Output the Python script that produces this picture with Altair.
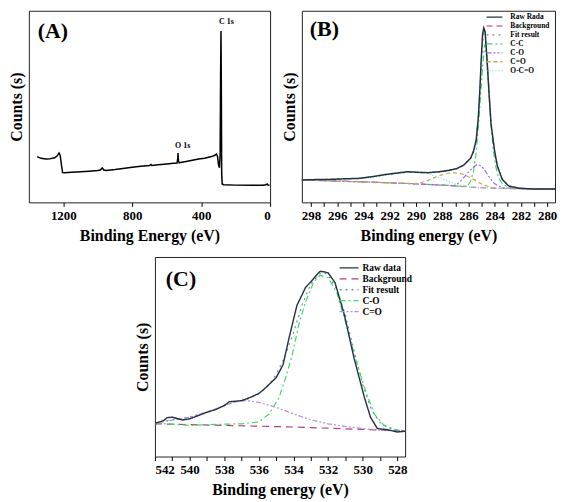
import altair as alt
import pandas as pd

FONT = "Liberation Serif"

# ---------------- Panel A : survey spectrum ----------------
A_E = [1352, 1330, 1300, 1279, 1250, 1235, 1225, 1218, 1210, 1204, 1195, 1150, 1100, 1050, 1000,
       985, 974, 965, 950, 900, 876, 800, 750, 700, 691, 685, 650, 600, 560, 540, 536, 534, 532,
       528, 520, 480, 415, 380, 340, 320, 311, 305, 300, 294, 290, 287, 285, 283, 281, 278,
       270, 200, 100, 40, 25, 17, 12, 3]
A_I = [23.9, 23.0, 22.6, 22.7, 23.3, 24.3, 25.8, 24.5, 19.0, 15.5, 15.4, 15.7, 16.0, 16.3, 16.6,
       16.9, 18.0, 16.9, 16.6, 17.1, 17.4, 18.3, 18.8, 19.2, 19.8, 19.2, 19.6, 20.0, 20.4, 20.5, 23.0, 25.8, 22.0,
       20.6, 20.8, 21.5, 22.6, 23.0, 23.9, 24.6, 25.3, 24.0, 20.0, 18.1, 25.0, 70.0, 89.4, 60.0, 15.0, 9.6,
       9.2, 9.0, 8.9, 8.9, 9.2, 9.6, 9.0, 8.9]
PEAK_LABELS = ["C 1s", "O 1s"]
PEAK_E = [253, 507]
PEAK_I = [94.0, 29.4]

# ---------------- Panel B : C 1s ----------------
B_NAMES = ["Raw Rada", "Background", "Fit result", "C-C", "C-O", "C=O", "O-C=O"]
B_COLORS = ["#22313f", "#d070a8", "#6b8fae", "#3ddc5a", "#9b6bef", "#c9a45c", "#79e0d0"]
B_DASHES = [[1, 0], [6, 4], [2, 4], [6, 3, 2, 3], [5, 2, 2, 2, 2, 2], [4, 3], [1, 2]]

B_RAW_E = [298.7, 297.63, 296.56, 295.48, 294.41, 293.34, 292.27, 291.2, 290.66, 290.12, 289.59,
           289.05, 288.52, 287.98, 287.44, 286.91, 286.37, 285.84, 285.62, 285.41, 285.25, 285.14,
           285.03, 284.92, 284.83, 284.73, 284.6, 284.44, 284.28, 284.01, 283.8, 283.42, 282.94,
           282.19, 281.12, 279.4]
B_RAW_I = [11.7, 11.9, 12.0, 12.3, 12.5, 13.4, 14.6, 15.5, 16.0, 15.8, 15.6,
           15.5, 15.8, 16.2, 16.8, 17.6, 19.4, 23.0, 26.5, 32.5, 44.0, 57.5,
           74.0, 88.0, 91.1, 89.0, 76.0, 58.0, 41.0, 27.0, 19.0, 12.0, 8.6,
           7.4, 7.0, 7.0]
B_BG_E = [298.7, 294.4, 290.1, 288.0, 285.8, 284.8, 283.7, 281.6, 279.4]
B_BG_I = [11.7, 10.8, 9.7, 9.0, 8.0, 7.6, 7.3, 7.1, 7.0]
B_FIT_E = [298.7, 296.56, 294.41, 292.27, 291.2, 290.66, 290.12, 289.05, 287.98, 286.91, 286.37,
           285.84, 285.62, 285.41, 285.25, 285.09, 284.92, 284.82, 284.71, 284.6, 284.44, 284.28,
           284.01, 283.8, 283.42, 282.94, 282.19, 281.01, 279.4]
B_FIT_I = [11.7, 12.0, 12.5, 14.4, 15.3, 15.7, 15.7, 15.6, 16.0, 17.4, 19.3,
           23.0, 27.0, 33.0, 45.0, 63.0, 83.0, 90.0, 88.5, 77.0, 58.5, 41.0,
           27.0, 19.0, 12.0, 8.6, 7.4, 7.0, 7.0]
B_CC_E = [298.7, 294.41, 290.12, 287.98, 286.48, 286.05, 285.84, 285.62, 285.41, 285.25, 285.09,
          284.92, 284.76, 284.6, 284.44, 284.28, 284.12, 283.91, 283.69, 283.37, 282.94, 282.08,
          280.48, 279.4]
B_CC_I = [11.7, 10.8, 9.7, 9.0, 8.3, 8.8, 11.0, 16.0, 26.0, 39.0, 54.0,
          71.0, 82.5, 76.0, 59.0, 41.0, 28.0, 18.5, 12.5, 9.3, 8.0, 7.3,
          7.0, 7.0]
B_CO_E = [298.7, 292.27, 287.98, 287.12, 286.69, 286.26, 285.94, 285.62, 285.35, 285.09, 284.87,
          284.66, 284.39, 284.12, 283.91, 283.37, 282.62, 281.55, 279.4]
B_CO_I = [11.7, 10.3, 9.0, 8.7, 10.5, 13.7, 16.3, 18.3, 19.8, 19.2, 17.8,
          15.8, 12.9, 10.5, 9.3, 7.7, 7.2, 7.1, 7.0]
B_CEO_E = [298.7, 292.27, 290.12, 289.59, 289.05, 288.62, 287.98, 287.55, 287.12, 286.69, 286.37,
           285.94, 285.62, 285.19, 284.87, 284.23, 283.69, 281.55, 279.4]
B_CEO_I = [11.7, 10.3, 9.8, 10.3, 11.6, 12.9, 14.5, 15.2, 15.5, 15.2, 14.6,
           13.2, 12.0, 10.3, 9.1, 7.8, 7.4, 7.1, 7.0]
B_OCO_E = [298.7, 296.56, 294.41, 293.34, 292.27, 291.2, 290.66, 290.12, 289.59, 288.94, 288.19,
           287.44, 286.69, 285.94, 285.3, 283.69, 281.55, 279.4]
B_OCO_I = [11.7, 12.0, 12.4, 13.0, 14.2, 15.3, 15.7, 15.6, 15.3, 14.6, 12.9,
           10.8, 9.1, 8.1, 7.8, 7.3, 7.1, 7.0]

# ---------------- Panel C : O 1s ----------------
C_NAMES = ["Raw data", "Background", "Fit result", "C-O", "C=O"]
C_COLORS = ["#22313f", "#b0407f", "#6b8fae", "#3ddc5a", "#b48be0"]
C_DASHES = [[1, 0], [7, 5], [2, 4], [6, 3, 2, 3], [5, 2, 2, 2, 2, 2]]

C_RAW_E = [542, 541.7, 541.5, 541.3, 541.0, 540.7, 540.4, 540.0, 539.5, 539.0, 538.5, 538.0, 537.7,
           537.5, 537.0, 536.5, 536.0, 535.7, 535.0, 534.6, 534.26, 533.8, 533.3, 532.9, 532.55,
           532.45, 532.2, 532.0, 531.6, 531.05, 530.5, 529.9, 529.55, 529.15, 528.6, 528.0, 527.5]
C_RAW_I = [16.8, 17.4, 18.0, 19.5, 19.7, 19.0, 18.3, 18.9, 20.5, 22.2, 23.5, 25.5, 27.5,
           27.6, 28.0, 29.6, 31.6, 33.7, 39.5, 46.0, 59.2, 75.7, 84.7, 88.5, 92.1,
           92.8, 92.5, 92.1, 87.2, 70.7, 49.3, 29.6, 19.7, 14.0, 13.5, 12.3, 12.7]
C_BG_E = [542, 538, 534, 530, 527.5]
C_BG_I = [16.4, 15.6, 14.8, 13.6, 12.7]
C_FIT_E = [542, 541, 540, 539, 538, 537.3, 536.7, 536, 535.5, 535, 534.5, 534, 533.5, 533, 532.5,
           532.2, 532, 531.5, 531, 530.5, 530, 529.5, 529, 528.5, 528, 527.5]
C_FIT_I = [16.8, 18.5, 19.8, 22.2, 25.5, 27.6, 28.6, 31.5, 35, 41, 50, 62, 76, 86.5, 91.5,
           92, 91, 84, 71, 53, 36, 23.5, 17, 14.5, 13.4, 12.8]
C_CO_E = [542, 540, 539, 537, 536, 535.4, 534.83, 534.45, 534.07, 533.7, 533.31, 532.84, 532.46,
          531.99, 531.5, 531.05, 530.48, 529.9, 529.34, 528.77, 528.2, 527.5]
C_CO_I = [16.8, 15.6, 16.0, 16.4, 17.3, 21.4, 29.6, 39.5, 51.0, 65.8, 77.3, 87.2, 90.8,
          89.6, 82.2, 69.1, 51.0, 34.5, 21.4, 15.6, 13.5, 12.8]
C_CEO_E = [542, 541.1, 540, 539, 538, 537.3, 536.7, 536, 535, 534, 533, 532, 531, 530, 529, 527.5]
C_CEO_I = [16.8, 18.1, 19.7, 22.2, 25.5, 27.5, 28.0, 27.1, 24.7, 21.4, 18.4, 16.4, 15.1, 14.0, 13.2, 12.7]


def make_df(names, e_lists, i_lists):
    rows = []
    for n, es, vs in zip(names, e_lists, i_lists):
        for e, v in zip(es, vs):
            rows.append({"series": n, "E": e, "I": v})
    return pd.DataFrame(rows)


def x_axis(title, values, step, fs):
    return alt.Axis(title=title, values=values,
                    labelExpr=f"datum.value % {step} == 0 ? datum.label : ''",
                    format="d", labelOverlap=False,
                    labelFont=FONT, labelFontWeight="bold", labelFontSize=fs, labelColor="black",
                    labelPadding=3, tickSize=4, tickColor="black", tickWidth=1,
                    domain=False, grid=False,
                    titleFont=FONT, titleFontWeight="bold", titleFontSize=16, titleColor="black",
                    titlePadding=5)


def y_axis():
    return alt.Axis(title="Counts (s)", labels=False, ticks=False, domain=False, grid=False,
                    titleFont=FONT, titleFontWeight="bold", titleFontSize=16, titleColor="black",
                    titlePadding=4)


def panel_label(txt, x, y):
    return alt.Chart(pd.DataFrame({"t": [txt]})).mark_text(
        font=FONT, fontWeight="bold", fontSize=22, align="left", baseline="middle", color="black"
    ).encode(text="t:N", x=alt.value(x), y=alt.value(y))


def legend(x, y, fs, clip, sym, off):
    return alt.Legend(title=None, orient="none", legendX=x, legendY=y,
                      labelFont=FONT, labelFontWeight="bold", labelFontSize=fs, labelColor="black",
                      symbolType="stroke", symbolSize=sym * sym, symbolStrokeWidth=1.3,
                      clipHeight=clip, rowPadding=0, labelOffset=off, padding=0)


VIEW = alt.ViewBackground(stroke="#222222", strokeWidth=1)

# ---- A
a_x = alt.X("E:Q", scale=alt.Scale(domain=[0, 1400], reverse=True, nice=False, zero=False),
            axis=x_axis("Binding Energy (eV)", list(range(0, 1401, 100)), 200, 13))
a_y = alt.Y("I:Q", scale=alt.Scale(domain=[0, 100], nice=False, zero=False), axis=y_axis())
a_line = alt.Chart(pd.DataFrame({"E": A_E, "I": A_I})).mark_line(
    color="black", strokeWidth=1.5).encode(x=a_x, y=a_y)
a_pk = alt.Chart(pd.DataFrame({"E": PEAK_E, "I": PEAK_I, "t": PEAK_LABELS})).mark_text(
    font=FONT, fontWeight="bold", fontSize=8, color="black").encode(x="E:Q", y="I:Q", text="t:N")
A = alt.layer(a_line, a_pk, panel_label("(A)", 9, 20)).properties(width=243, height=193, view=VIEW)

# ---- B
b_df = make_df(B_NAMES, [B_RAW_E, B_BG_E, B_FIT_E, B_CC_E, B_CO_E, B_CEO_E, B_OCO_E],
               [B_RAW_I, B_BG_I, B_FIT_I, B_CC_I, B_CO_I, B_CEO_I, B_OCO_I])
b_leg = legend(185, 2, 7.5, 8.7, 16, 7)
b_x = alt.X("E:Q", scale=alt.Scale(domain=[279.4, 298.7], reverse=True, nice=False, zero=False),
            axis=x_axis("Binding energy (eV)", list(range(280, 299)), 2, 13))
b_y = alt.Y("I:Q", scale=alt.Scale(domain=[0, 100], nice=False, zero=False), axis=y_axis())
b_base = alt.Chart(b_df).mark_line(strokeWidth=1.2).encode(
    x=b_x, y=b_y,
    color=alt.Color("series:N", scale=alt.Scale(domain=B_NAMES, range=B_COLORS), legend=b_leg),
    strokeDash=alt.StrokeDash("series:N", scale=alt.Scale(domain=B_NAMES, range=B_DASHES), legend=b_leg),
)
b_comp = b_base.transform_filter(alt.datum.series != "Raw Rada")
b_raw = b_base.mark_line(strokeWidth=1.5).transform_filter(alt.datum.series == "Raw Rada")
B = alt.layer(b_comp, b_raw, panel_label("(B)", 8, 18)).properties(width=255, height=193, view=VIEW)

# ---- C
c_df = make_df(C_NAMES, [C_RAW_E, C_BG_E, C_FIT_E, C_CO_E, C_CEO_E],
               [C_RAW_I, C_BG_I, C_FIT_I, C_CO_I, C_CEO_I])
c_leg = legend(185, 5.5, 9.5, 11, 19, 3)
c_x = alt.X("E:Q", scale=alt.Scale(domain=[527.55, 542], reverse=True, nice=False, zero=False),
            axis=x_axis("Binding energy (eV)", list(range(528, 543)), 2, 13))
c_y = alt.Y("I:Q", scale=alt.Scale(domain=[0, 100], nice=False, zero=False), axis=y_axis())
c_base = alt.Chart(c_df).mark_line(strokeWidth=1.2, clip=True).encode(
    x=c_x, y=c_y,
    color=alt.Color("series:N", scale=alt.Scale(domain=C_NAMES, range=C_COLORS), legend=c_leg),
    strokeDash=alt.StrokeDash("series:N", scale=alt.Scale(domain=C_NAMES, range=C_DASHES), legend=c_leg),
)
c_comp = c_base.transform_filter(alt.datum.series != "Raw data")
c_raw = c_base.mark_line(strokeWidth=1.4, clip=True).transform_filter(alt.datum.series == "Raw data")
C = alt.layer(c_comp, c_raw, panel_label("(C)", 11, 22)).properties(width=252, height=201, view=VIEW)

spacer = alt.Chart(pd.DataFrame({"v": [0]})).mark_point(opacity=0).properties(
    width=102, height=10, view=alt.ViewBackground(stroke=None))

top = alt.hconcat(A, B, spacing=8).resolve_scale(color="independent", strokeDash="independent")
bottom = alt.hconcat(spacer, C, spacing=4).resolve_scale(color="independent", strokeDash="independent")
chart = (alt.vconcat(top, bottom, spacing=12)
         .resolve_scale(color="independent", strokeDash="independent")
         .properties(padding=0)
         .configure(background="white"))

chart.save("out.html", embed_options={"renderer": "svg", "actions": False})
